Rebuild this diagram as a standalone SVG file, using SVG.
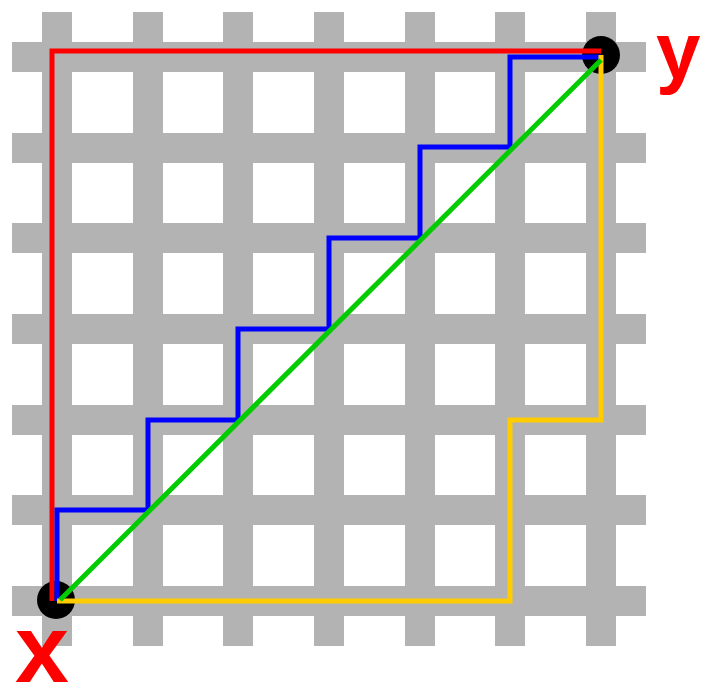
<svg xmlns="http://www.w3.org/2000/svg" width="701" height="685" viewBox="0 0 701 685">
<style>
.bar{fill:#b3b3b3}
.ln{fill:none;stroke-width:5;stroke-linejoin:miter;stroke-linecap:butt}
.lbl{font-family:"Liberation Sans",Arial,sans-serif;font-weight:bold;fill:#ff0000}
</style>
<rect width="701" height="685" fill="#ffffff"/>
<g id="grid">
<rect class="bar" x="42" y="12" width="30" height="634"/>
<rect class="bar" x="133" y="12" width="30" height="634"/>
<rect class="bar" x="223" y="12" width="30" height="634"/>
<rect class="bar" x="314" y="12" width="30" height="634"/>
<rect class="bar" x="405" y="12" width="30" height="634"/>
<rect class="bar" x="495" y="12" width="30" height="634"/>
<rect class="bar" x="586" y="12" width="30" height="634"/>
<rect class="bar" x="12" y="42" width="634" height="30"/>
<rect class="bar" x="12" y="133" width="634" height="30"/>
<rect class="bar" x="12" y="223" width="634" height="30"/>
<rect class="bar" x="12" y="314" width="634" height="30"/>
<rect class="bar" x="12" y="405" width="634" height="30"/>
<rect class="bar" x="12" y="495" width="634" height="30"/>
<rect class="bar" x="12" y="586" width="634" height="30"/>
</g>
<g id="node-x"><circle cx="56" cy="600" r="19" fill="#000"/><text class="lbl" x="15" y="682" font-size="97">x</text></g>
<g id="node-y"><circle cx="601" cy="55" r="19" fill="#000"/><text class="lbl" x="656" y="78" font-size="80">y</text></g>
<g id="connectors">
<path class="ln" stroke="#ff0000" d="M52,601 V51 H601"/>
<path class="ln" stroke="#0000ff" d="M57,601 V510 H148 V420 H238 V329 H329 V238 H420 V147 H510 V57 H601"/>
<path class="ln" stroke="#ffcc00" d="M57,601 H510 V420 H601 V55"/>
<path class="ln" stroke="#00cc00" d="M60,600 L601,60"/>
</g>
</svg>
